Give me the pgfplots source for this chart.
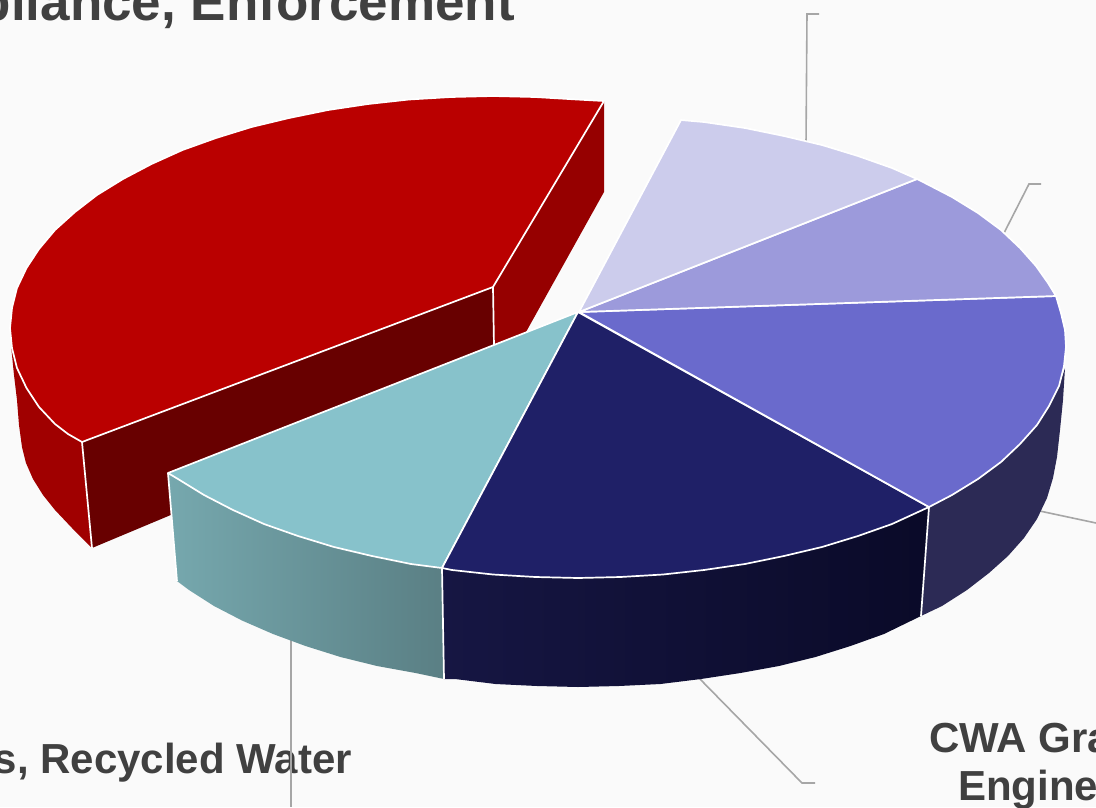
\documentclass[border=0pt]{standalone}
\usepackage{pgfplots}
\pgfplotsset{compat=1.18}
\usepackage{fontspec}
\setmainfont{Liberation Sans}
\definecolor{bg}{HTML}{FAFAFA}
\definecolor{txt}{HTML}{404040}
\definecolor{lead}{HTML}{A6A6A6}
\definecolor{redtop}{HTML}{BA0000}
\definecolor{redback}{HTML}{960000}
\definecolor{reddark}{HTML}{680000}
\definecolor{redarc}{HTML}{A00000}
\definecolor{tealtop}{HTML}{87C2CB}
\definecolor{teall}{HTML}{76A8AE}
\definecolor{tealr}{HTML}{5A7F84}
\definecolor{navytop}{HTML}{1F2067}
\definecolor{navyl}{HTML}{161643}
\definecolor{navyr}{HTML}{0A0A28}
\definecolor{violet}{HTML}{6A6ACC}
\definecolor{violetside}{HTML}{2C2A55}
\definecolor{lav}{HTML}{9C9ADB}
\definecolor{light}{HTML}{CCCCEC}
\begin{document}
\begin{tikzpicture}
\path[use as bounding box, clip] (0,0) rectangle (1096pt,807pt);
\begin{axis}[at={(0,0)},anchor=south west,scale only axis,width=1096pt,height=807pt,
  xmin=0,xmax=1096,ymin=0,ymax=807,y dir=reverse,hide axis,clip=false,
  every axis plot/.append style={no markers,forget plot},
  top/.style={draw=white,line width=1.7pt,line join=round},
  side/.style={draw=none},
  div/.style={draw=white,line width=1.7pt},
  lead/.style={draw=lead,line width=1.6pt}]
% background
\addplot[fill=bg,draw=none] coordinates {(0,0)(1096,0)(1096,807)(0,807)} --cycle;
% labels
\node[anchor=base east,inner sep=0pt,text=txt,font=\fontsize{53}{60}\selectfont\bfseries] at (axis cs:515,20.5) {Compliance, Enforcement};
\node[anchor=base east,inner sep=0pt,text=txt,font=\fontsize{42}{48}\selectfont\bfseries] at (axis cs:352,773) {Water Rights, Recycled Water};
\node[anchor=base west,inner sep=0pt,text=txt,font=\fontsize{42}{48}\selectfont\bfseries] at (axis cs:929,752) {CWA Grants,};
\node[anchor=base west,inner sep=0pt,text=txt,font=\fontsize{42}{48}\selectfont\bfseries] at (axis cs:958,800) {Engineering};
% leader lines
\addplot[lead] coordinates {(806,145)(807,14)(819,14)};
\addplot[lead] coordinates {(1003,235)(1029,184)(1041,184)};
\addplot[lead] coordinates {(1035,510)(1096,523)};
\addplot[lead] coordinates {(698,677)(802,783)(815,783)};
\addplot[lead] coordinates {(291,635)(291,807)};
% exploded red slice
\addplot[fill=redback,draw=none] coordinates {(604,101)(604,192)(526,332)(493,345)(493,287)} --cycle;
\addplot[fill=reddark,draw=none] coordinates {(493,287)(493,380)(92,548)(82,442)} --cycle;
\addplot[side,fill=redarc] coordinates {(11,345)(14,375)(17,400)(19,425)(22,447)(26,463)(33,479)(43,495)(55,510)(72,528)(92,548)(82,442)(68,434)(55,424)(39,407)(26,388)(17,368)} --cycle;
\addplot[div] coordinates {(82,442)(92,548)};
\addplot[div] coordinates {(493,287)(494,346)};
\addplot[top,fill=redtop] coordinates {(493,287)(604,101)(577,99.5)(535,97)(493,96)(451,97)(409,99.5)(368,104)(328,110)(289,118)(251.5,127)(216,138)(182.5,150)(151.5,164)(123,179)(97,195)(75,212)(55,230)(39,249)(26.5,268)(17,288)(12,308)(10,328)(12,348)(17,368)(26.5,388)(39,407)(55,424)(68,434)(82,442)(493,287)};
% side walls of the main pie
\addplot[side,fill=violetside] coordinates {(929,507)(952,495)(978,479)(1001,462)(1020,444)(1037,425)(1049,406)(1059,386)(1065,368)(1063,400)(1060,430)(1057,457)(1053,478)(1047,498)(1037,519)(1024,538)(1008,556)(989,573)(967,590)(942,606)(921,616)} --cycle;
\addplot[side,shade,left color=navyl,right color=navyr] coordinates {(442,568)(452,570)(493,574.5)(535.5,577)(578,578)(620.5,577)(663,574.5)(704,570)(745,564)(784,556)(822,547)(858,536)(892,524)(929,507)(921,616)(884,634)(850.5,646)(815.5,657)(779,666)(740.5,673)(701,679)(660.5,684)(619,686)(578,687)(537,686)(495.5,684)(455,679)(444,679)} --cycle;
\addplot[side,shade,left color=teall,right color=tealr] coordinates {(168,473)(178,479)(204,495)(233,510)(264,524)(298,536)(334,547)(372,556)(411,564)(442,568)(444,679)(415.5,673)(377,666)(340.5,657)(305.5,646)(273,634)(242,620.5)(214,606)(189,590)(177,581)} --cycle;
\addplot[div] coordinates {(929,507)(921,616)};
\addplot[div] coordinates {(442,568)(444,679)};
\addplot[div] coordinates {(168,473)(177,581)};
% top faces
\addplot[top,fill=tealtop] coordinates {(578,312)(168,473)(178,479)(204,495)(233,510)(264,524)(298,536)(334,547)(372,556)(411,564)(442,568)(578,312)};
\addplot[top,fill=navytop] coordinates {(578,312)(442,568)(452,570)(493,574.5)(535.5,577)(578,578)(620.5,577)(663,574.5)(704,570)(745,564)(784,556)(822,547)(858,536)(892,524)(929,507)(578,312)};
\addplot[top,fill=violet] coordinates {(579,312)(929,507)(952,495)(978,479)(1001,462)(1020,444)(1037,425)(1049,406)(1059,386)(1064,366)(1066,347)(1065,330)(1061,313)(1056,296)(579,312)};
\addplot[top,fill=lav] coordinates {(579,312)(1056,296)(1048,283)(1036,266)(1020,248)(1001,230)(978,213)(952,197)(923,182)(917,179)(579,312)};
\addplot[top,fill=light] coordinates {(579,312)(917,179)(892,168)(858,156)(822,145)(784,136)(745,128)(704,122)(681,120)(579,312)};
\end{axis}
\end{tikzpicture}
\end{document}
